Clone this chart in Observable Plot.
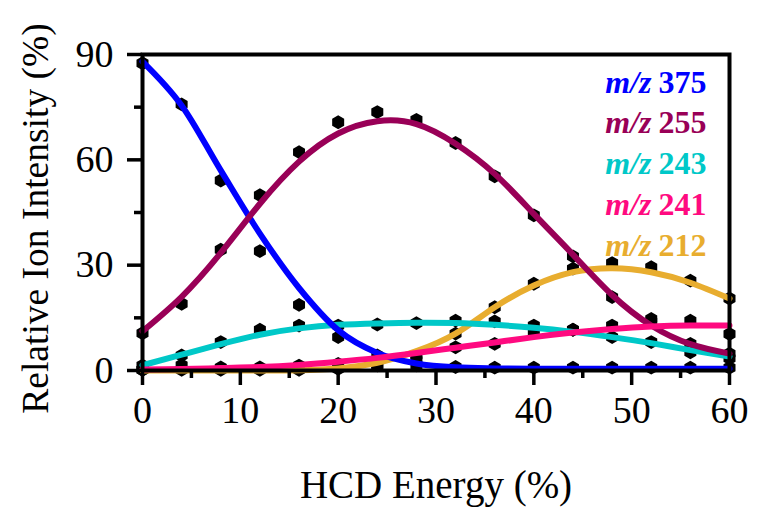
<!DOCTYPE html>
<html>
<head>
<meta charset="utf-8">
<script src="https://cdn.jsdelivr.net/npm/d3@7"></script>
<script src="https://cdn.jsdelivr.net/npm/@observablehq/plot@0.6"></script>
<style>
  html, body { margin: 0; padding: 0; background: #fff; }
</style>
</head>
<body>
<div id="chart"></div>
<script>
// ---- data ----
const energy = [0, 4, 8, 12, 16, 20, 24, 28, 32, 36, 40, 44, 48, 52, 56, 60];

// measured points
const pts375 = [87.5, 75.8, 54.1, 34.0, 18.7, 9.5, 4.3, 1.5, 1.0, 0.8, 0.8, 0.8, 0.8, 0.8, 0.8, 0.8];
const pts255 = [10.6, 19.0, 34.4, 49.9, 62.2, 70.7, 73.6, 71.4, 64.8, 55.3, 44.2, 32.5, 20.9, 14.7, 7.6, 4.8];
const pts243 = [1.4, 4.3, 8.1, 11.6, 12.8, 12.8, 13.1, 13.5, 14.2, 14.0, 12.8, 11.6, 9.5, 8.1, 5.2, 3.5];
const pts241 = [0.2, 1.5, 0.9, 0.9, 1.4, 1.9, 1.5, 4.3, 6.6, 7.6, 10.9, 11.6, 12.8, 14.0, 14.2, 10.4];
const pts212 = [0.2, 0.2, 0.2, 0.2, 0.2, 0.5, 1.5, 3.0, 10.5, 18.0, 24.7, 29.0, 30.6, 29.4, 25.6, 20.5];

// fitted curves (read at the same energies)
const fit375 = [88, 75.5, 57, 39, 23.5, 11.5, 5, 2, 0.9, 0.6, 0.5, 0.5, 0.5, 0.5, 0.5, 0.5];
const fit255 = [11.2, 21, 33.5, 47.5, 59.5, 67.5, 71, 70.2, 64.6, 56, 44.6, 33, 21.5, 12.8, 7.5, 4.8];
const fit243 = [1.5, 4.5, 7.5, 10.2, 12, 13, 13.4, 13.6, 13.5, 13, 12.2, 11, 9.5, 7.8, 5.8, 4];
const fit241 = [0.3, 0.4, 0.7, 1.0, 1.6, 2.5, 3.6, 5, 6.5, 8, 9.5, 10.8, 11.8, 12.5, 12.8, 12.8];
const fit212 = [0, 0, 0, 0, 0.1, 0.6, 2.2, 5.5, 10.5, 18, 24.2, 28, 29.1, 28, 25, 20.5];

const ionNames = ["375", "255", "243", "241", "212"];
const ionColors = ["#0000ff", "#990057", "#00c8c8", "#ff0a80", "#e8ad2f"];

const xMajor = [0, 10, 20, 30, 40, 50, 60];
const xMinor = [5, 15, 25, 35, 45, 55];
const yMajor = [0, 30, 60, 90];
const yMinor = [15, 45, 75];

const xLabel = "HCD Energy (%)";
const yLabel = "Relative Ion Intensity (%)";

// ---- build tables ----
const ptsBy = {"375": pts375, "255": pts255, "243": pts243, "241": pts241, "212": pts212};
const fitBy = {"375": fit375, "255": fit255, "243": fit243, "241": fit241, "212": fit212};
const points = [];
const fits = [];
for (const ion of ionNames) {
  energy.forEach((e, i) => {
    points.push({ion, energy: e, value: ptsBy[ion][i]});
    fits.push({ion, energy: e, value: fitBy[ion][i]});
  });
}
const colorOf = Object.fromEntries(ionNames.map((n, i) => [n, ionColors[i]]));
const drawOrder = ["212", "243", "375", "255", "241"];

const font = "'Liberation Serif', 'Times New Roman', serif";

const marks = [
  Plot.dot(points, {x: "energy", y: "value", r: 6, symbol: "hexagon", fill: "black"}),
  ...drawOrder.map(ion => Plot.line(fits.filter(d => d.ion === ion), {
    x: "energy", y: "value", stroke: colorOf[ion], strokeWidth: 6,
    curve: ion === "375" ? "monotone-x" : "natural"
  })),
  Plot.frame({strokeWidth: 4}),
  Plot.axisX(xMajor, {tickSize: 15, tickPadding: 11, strokeWidth: 3.5, fontSize: 38, label: null}),
  Plot.axisX(xMinor, {tickSize: 8, strokeWidth: 3.5, tickFormat: () => "", label: null}),
  Plot.axisY(yMajor, {tickSize: 15, tickPadding: 14, strokeWidth: 3.5, fontSize: 38, label: null}),
  Plot.axisY(yMinor, {tickSize: 8, strokeWidth: 3.5, tickFormat: () => "", label: null}),
  Plot.text([xLabel], {text: d => d, frameAnchor: "bottom", dy: 115, textAnchor: "middle", lineAnchor: "middle", fontSize: 39}),
  Plot.text([yLabel], {text: d => d, frameAnchor: "left", rotate: -90, dx: -107, dy: 6, textAnchor: "middle", lineAnchor: "middle", fontSize: 37.5}),
  ...ionNames.map((ion, i) => Plot.text([ion], {
    text: d => d, frameAnchor: "top-right", dx: -71, dy: 28 + i * 40.7,
    textAnchor: "start", lineAnchor: "middle", fontSize: 32, fontWeight: "bold", fill: colorOf[ion]
  })),
  ...ionNames.map((ion, i) => Plot.text(["m/z"], {
    text: d => d, frameAnchor: "top-right", dx: -78, dy: 28 + i * 40.7,
    textAnchor: "end", lineAnchor: "middle", fontSize: 32, fontWeight: "bold", fontStyle: "italic", fill: colorOf[ion]
  }))
];

const chart = Plot.plot({
  width: 758,
  height: 511,
  marginLeft: 142,
  marginRight: 29,
  marginTop: 54,
  marginBottom: 141,
  style: {fontFamily: font, fontSize: "35px", color: "black", background: "white", overflow: "visible"},
  x: {domain: [0, 60], axis: null},
  y: {domain: [0, 90], axis: null},
  marks
});
document.getElementById("chart").appendChild(chart);
</script>
</body>
</html>
